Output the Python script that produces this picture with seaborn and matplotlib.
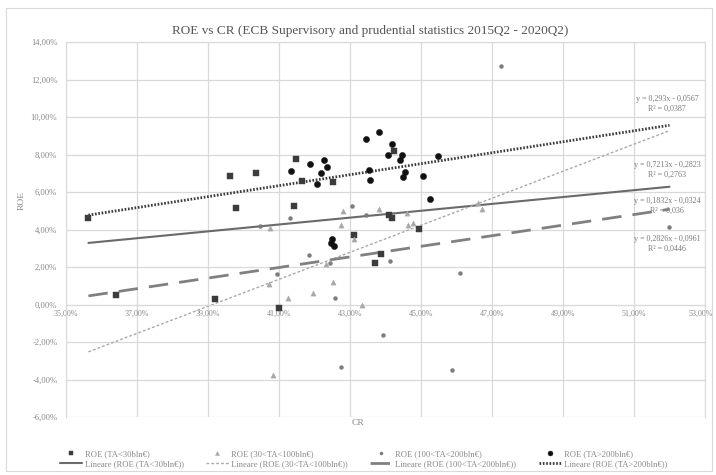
import numpy as np
import pandas as pd
import matplotlib
matplotlib.use("Agg")
import matplotlib.pyplot as plt
import matplotlib.transforms as mtransforms
from matplotlib.ticker import FuncFormatter
from matplotlib.patches import Rectangle
import seaborn as sns

sns.set_style("white")
plt.rcParams['font.family'] = ['Liberation Serif', 'DejaVu Serif']

TITLE = "ROE vs CR (ECB Supervisory and prudential statistics 2015Q2 - 2020Q2)"

# --- data (CR %, ROE %) ---
sq_cr = [35.64, 36.41, 39.21, 39.63, 39.79, 40.35, 41.01, 41.43, 41.49, 41.66, 42.52,
         43.12, 43.71, 43.88, 44.09, 44.18, 44.23, 44.96]
sq_roe = [4.61, 0.52, 0.30, 6.88, 5.14, 7.04, -0.21, 5.26, 7.77, 6.61, 6.54,
          3.72, 2.21, 2.70, 4.78, 4.64, 8.21, 4.02]

tri_cr = [40.71, 40.75, 40.85, 41.27, 41.96, 42.33, 42.54, 42.76, 42.80, 43.12, 43.35,
          43.81, 44.60, 44.65, 44.79, 46.62, 46.72]
tri_roe = [1.10, 4.11, -3.75, 0.34, 0.61, 2.17, 1.19, 4.25, 5.01, 3.49, -0.02,
           5.09, 4.87, 4.25, 4.37, 5.44, 5.09]

dot_cr = [40.47, 40.96, 41.32, 41.85, 42.45, 42.57, 42.75, 43.06, 43.45, 43.93, 44.13,
          45.89, 46.11, 47.25, 52.00]
dot_roe = [4.20, 1.64, 4.61, 2.65, 2.24, 0.34, -3.34, 5.26, 4.78, -1.65, 2.33,
           -3.48, 1.71, 12.75, 4.16]

big_cr = [41.35, 41.88, 42.07, 42.19, 42.28, 42.37, 42.47, 42.49, 42.56, 43.46, 43.55,
          43.57, 43.81, 44.07, 44.20, 44.40, 44.46, 44.51, 44.56, 45.06, 45.26, 45.48]
big_roe = [7.15, 7.49, 6.42, 7.04, 7.72, 7.36, 3.27, 3.49, 3.13, 8.84, 7.18,
           6.65, 9.19, 7.98, 8.55, 7.72, 7.98, 6.83, 7.09, 6.86, 5.62, 7.95]

series_names = ["ROE (TA<30bln€)", "ROE (30<TA<100bln€)",
                "ROE (100<TA<200bln€)", "ROE (TA>200bln€)"]
trend_names = ["Lineare (ROE (TA<30bln€))", "Lineare (ROE (30<TA<100bln€))",
               "Lineare (ROE (100<TA<200bln€))", "Lineare (ROE (TA>200bln€))"]
# trendline coefficients (x, y as fractions)
trend_slope = [0.1832, 0.7213, 0.2826, 0.293]
trend_icpt = [-0.0324, -0.2823, -0.0961, -0.0567]
trend_r2 = ["0,036", "0,2763", "0,0446", "0,0387"]

x_ticks = [35, 37, 39, 41, 43, 45, 47, 49, 51, 53]
y_ticks = [-6, -4, -2, 0, 2, 4, 6, 8, 10, 12, 14]

# --- figure ---
W, H = 716, 475
fig = plt.figure(figsize=(W / 100, H / 100), dpi=100)
ax = fig.add_axes([65.7 / W, 1 - 417 / H, (705 - 65.7) / W, (417 - 42.2) / H])

grid_c = "#d9d9d9"
xs = [sq_cr, tri_cr, dot_cr, big_cr]
ys = [sq_roe, tri_roe, dot_roe, big_roe]
markers = ["s", "^", "o", "o"]
colors = ["#3c3c3c", "#a8a8a8", "#7c7c7c", "#111111"]
sizes = [20, 14, 8, 20]
for i in range(4):
    df = pd.DataFrame({"CR": xs[i], "ROE": ys[i]})
    sns.scatterplot(data=df, x="CR", y="ROE", marker=markers[i], color=colors[i],
                    s=sizes[i], edgecolor=colors[i], linewidth=0.3, ax=ax,
                    label=series_names[i], zorder=3, legend=False)

all_cr = sq_cr + tri_cr + dot_cr + big_cr
x0, x1 = min(all_cr), max(all_cr)
line_styles = [
    dict(color="#6a6a6a", lw=1.5, ls="-"),
    dict(color="#a9a9a9", lw=1.0, ls=(0, (2, 1.5))),
    dict(color="#808080", lw=2.0, ls=(0, (7, 4))),
    dict(color="#3a3a3a", lw=2.0, ls=(0, (0.6, 0.6))),
]
for i in range(4):
    tx = np.array([x0, x1])
    ty = (trend_slope[i] * tx / 100 + trend_icpt[i]) * 100
    sns.lineplot(x=tx, y=ty, ax=ax, color=line_styles[i]["color"],
                 linewidth=line_styles[i]["lw"], linestyle=line_styles[i]["ls"],
                 zorder=2, label=trend_names[i], legend=False)

ax.set_xlim(35, 53)
ax.set_ylim(-6, 14)
ax.set_xticks(x_ticks)
ax.set_yticks(y_ticks)
fmt = FuncFormatter(lambda v, p: f"{v:.2f}%".replace(".", ","))
ax.xaxis.set_major_formatter(fmt)
ax.yaxis.set_major_formatter(fmt)
ax.grid(True, color=grid_c, linewidth=0.9)
ax.set_axisbelow(True)
for s in ["top", "right", "left"]:
    ax.spines[s].set_color(grid_c)
ax.spines["bottom"].set_position(("data", 0))
ax.spines["bottom"].set_color(grid_c)
ax.tick_params(axis="both", length=0, labelsize=6.2, labelcolor="#8a8a8a")
ax.tick_params(axis="x", pad=4, labelsize=5.8)
ax.tick_params(axis="y", pad=6)
ax.set_xlabel("")
ax.set_ylabel("")

# keep last x tick label inside the figure
fig.canvas.draw()
last = ax.get_xticklabels()[-1]
last.set_transform(last.get_transform() + mtransforms.ScaledTranslation(-4 / 100, 0, fig.dpi_scale_trans))

fig.text(358 / W, 1 - 423 / H, "CR", ha="center", va="center", fontsize=6.8, color="#8a8a8a")
fig.text(22 / W, 1 - 200 / H, "ROE", ha="center", va="center", fontsize=6.8,
         color="#8a8a8a", rotation=90)
fig.text(370 / W, 1 - 31 / H, TITLE, ha="center", va="center", fontsize=9.5, color="#555555")

# equation labels
eq_pos = [(667, 206), (667, 170), (667, 244), (667, 104)]
for i in range(4):
    sl = f"{trend_slope[i]}".replace(".", ",")
    ic = f"{abs(trend_icpt[i])}".replace(".", ",")
    txt = f"y = {sl}x - {ic}\nR² = {trend_r2[i]}"
    ax.annotate(txt, xy=(eq_pos[i][0] / W, 1 - eq_pos[i][1] / H), xycoords="figure fraction",
                ha="center", va="center", fontsize=5.8, color="#7a7a7a", linespacing=1.3)

# legend
h, l = ax.get_legend_handles_labels()
order = [0, 4, 1, 5, 2, 6, 3, 7]
leg = fig.legend([h[k] for k in order], [l[k] for k in order], ncol=4,
                 loc="center left", bbox_to_anchor=(52 / W, 1 - 459 / H), frameon=False,
                 fontsize=6.2, handlelength=2.6, columnspacing=2.6, labelspacing=0.3,
                 handletextpad=0.3, labelcolor="#8a8a8a", markerscale=0.8)

fig.patches.append(Rectangle((6 / W, 1 - 471 / H), 706 / W, 463 / H, transform=fig.transFigure,
                             fill=False, edgecolor="#d9d9d9", linewidth=0.8))

fig.savefig("out.png", dpi=100)
